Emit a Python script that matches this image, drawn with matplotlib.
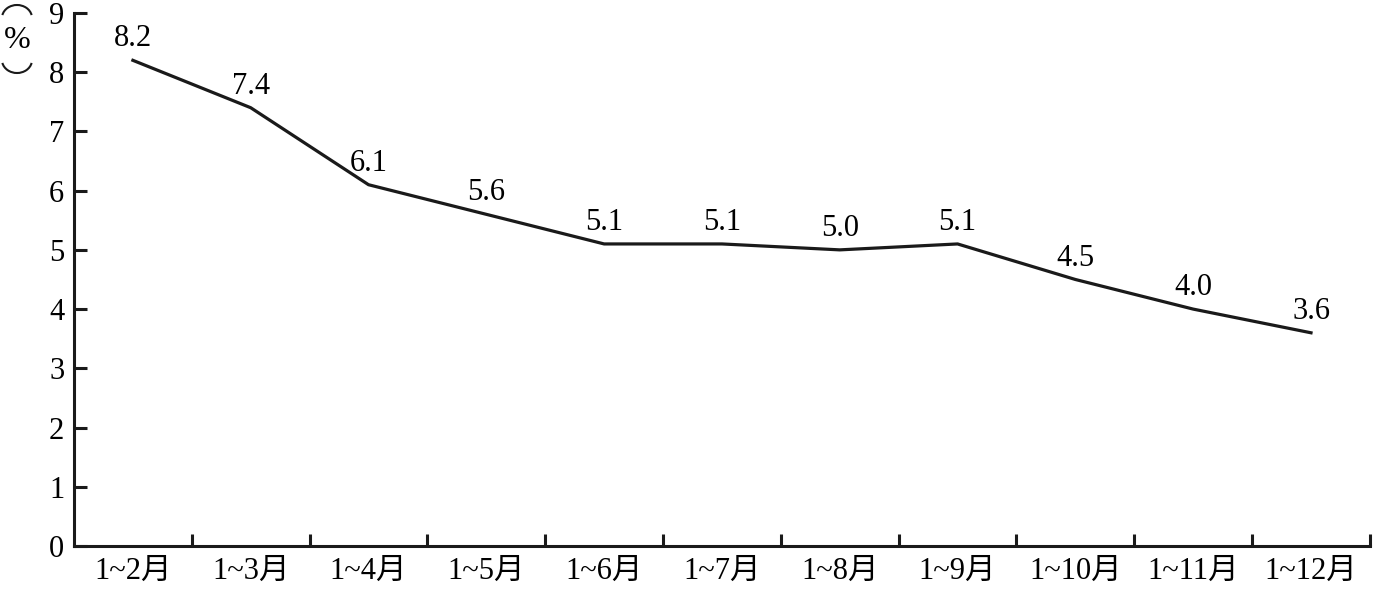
import matplotlib
matplotlib.use('Agg')
import matplotlib.pyplot as plt
from matplotlib.patches import Arc
import numpy as np

# data
months = ['1~2月', '1~3月', '1~4月', '1~5月', '1~6月', '1~7月',
          '1~8月', '1~9月', '1~10月', '1~11月', '1~12月']
values = [8.2, 7.4, 6.1, 5.6, 5.1, 5.1, 5.0, 5.1, 4.5, 4.0, 3.6]

plt.rcParams['font.family'] = ['Liberation Serif', 'Noto Sans CJK SC']

W, H = 1375, 591
fig = plt.figure(figsize=(W / 100, H / 100), dpi=100)
ax = fig.add_axes([0.0538, 0.0761, 0.9425, 0.902])

x = np.arange(len(months))
ax.plot(x, values, color='#1a1a1a', lw=2.3)

for xi, v in zip(x, values):
    ax.annotate(f'{v:.1f}', (xi, v), xytext=(0, 5), textcoords='offset points',
                ha='center', va='bottom', fontsize=22)

ax.set_xlim(-0.5, len(months) - 0.5)
ax.set_ylim(0, 9)
ax.set_yticks(range(10))
ax.set_xticks(x)
ax.set_xticklabels(months, fontsize=22)
ax.set_xticks(np.arange(0.5, len(months)), minor=True)
ax.tick_params(axis='x', which='major', length=0, pad=8)
ax.tick_params(axis='x', which='minor', direction='in', length=9, width=2.2, color='#1a1a1a')
ax.tick_params(axis='y', direction='in', length=9, width=2.2, labelsize=22, pad=7, color='#1a1a1a')

for side in ['top', 'right']:
    ax.spines[side].set_visible(False)
for side in ['left', 'bottom']:
    ax.spines[side].set_linewidth(2.2)
    ax.spines[side].set_color('#1a1a1a')

# vertical unit label: (%) written top to bottom
fig.patches.append(Arc((17 / W, 1 - 18 / H), 30 / W, 26 / H, theta1=25, theta2=155,
                       transform=fig.transFigure, color='#1a1a1a', lw=1.5))
fig.text(17 / W, 1 - 40 / H, '%', fontsize=23, ha='center', va='center')
fig.patches.append(Arc((17 / W, 1 - 60 / H), 30 / W, 26 / H, theta1=205, theta2=335,
                       transform=fig.transFigure, color='#1a1a1a', lw=1.5))

fig.savefig('out.png', dpi=100)
